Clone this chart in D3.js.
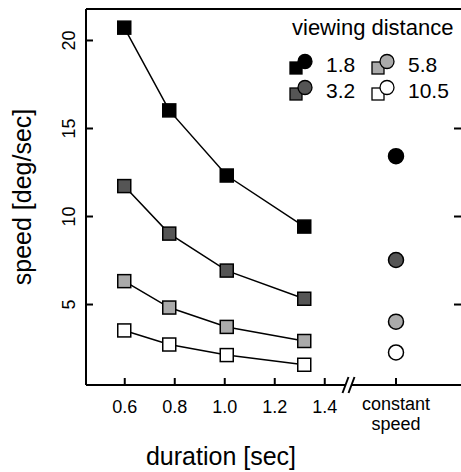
<!DOCTYPE html>
<html>
<head>
<meta charset="utf-8">
<script src="https://cdn.jsdelivr.net/npm/d3@7"></script>
<style>
  body { margin: 0; background: #fff; }
  svg { display: block; font-family: "Liberation Sans", Arial, sans-serif; }
  .axis path, .axis line { stroke: #000; stroke-width: 2; }
</style>
</head>
<body>
<svg id="chart" width="461" height="472"></svg>
<script>
// durations (sec) at which speed was measured
var durations = [0.6, 0.78, 1.01, 1.32];
var distances = ["1.8", "3.2", "5.8", "10.5"];
var fills = ["#000000", "#555555", "#aaaaaa", "#ffffff"];
// speed [deg/sec] per viewing distance
var speed18 = [20.7, 16.0, 12.3, 9.4];
var speed32 = [11.7, 9.0, 6.9, 5.3];
var speed58 = [6.3, 4.8, 3.7, 2.9];
var speed105 = [3.5, 2.7, 2.1, 1.55];
var constantSpeed = [13.4, 7.5, 4.0, 2.25];
var xTicks = [0.6, 0.8, 1.0, 1.2, 1.4];
var yTicks = [5, 10, 15, 20];

var series = [speed18, speed32, speed58, speed105];

var svg = d3.select("#chart");
var mLeft = 86, mTop = 9, mBottom = 385, mRight = 470;
var ff = "Liberation Sans";

var x = d3.scaleLinear().domain([0.447, 1.497]).range([86, 348.5]);
var xConst = 396;
var y = d3.scaleLinear().domain([0.4, 21.76]).range([mBottom, mTop]);

// frame: top line
svg.append("line").attr("x1", mLeft).attr("x2", mRight).attr("y1", mTop).attr("y2", mTop)
  .attr("stroke", "#000").attr("stroke-width", 2);

// left axis, ticks inward, labels rotated
var yAxis = svg.append("g").attr("class", "axis")
  .attr("transform", "translate(" + mLeft + ",0)")
  .call(d3.axisLeft(y).tickValues(yTicks).tickSizeInner(-7).tickSizeOuter(0).tickFormat(d3.format("d")));
yAxis.select(".domain").attr("d", "M0," + mTop + "V" + mBottom);
yAxis.selectAll(".tick text")
  .attr("x", 0).attr("y", 0).attr("dy", 0)
  .attr("text-anchor", "middle")
  .attr("transform", "translate(-11,0) rotate(-90)")
  .style("font-size", "18px").style("font-family", ff);

// right axis (line just off the page), ticks inward
var yAxisR = svg.append("g").attr("class", "axis")
  .attr("transform", "translate(" + (mRight - 9) + ",0)")
  .call(d3.axisRight(y).tickValues(yTicks).tickSizeInner(-7).tickSizeOuter(0).tickFormat(""));
yAxisR.select(".domain").remove();

// bottom axis with break
var xAxis = svg.append("g").attr("class", "axis")
  .attr("transform", "translate(0," + mBottom + ")")
  .call(d3.axisBottom(x).tickValues(xTicks).tickSizeInner(-7).tickSizeOuter(0).tickFormat(d3.format(".1f")));
xAxis.select(".domain").attr("d", "M" + mLeft + ",0H" + (x(1.497) - 3) + "M" + (x(1.497) + 3) + ",0H" + mRight);
xAxis.selectAll(".tick text").attr("y", 15).attr("dy", "0.71em")
  .style("font-size", "18px").style("font-family", ff);

var bx = x(1.497);
[-3, 3].forEach(function (d) {
  xAxis.append("line")
    .attr("x1", bx + d - 3).attr("y1", 8)
    .attr("x2", bx + d + 3).attr("y2", -8)
    .attr("stroke", "#000").attr("stroke-width", 1.5);
});
xAxis.append("line").attr("x1", xConst).attr("x2", xConst).attr("y1", 0).attr("y2", -7)
  .attr("stroke", "#000").attr("stroke-width", 2);
var ct = xAxis.append("text").attr("text-anchor", "middle").attr("fill", "#000")
  .style("font-size", "18px").style("font-family", ff);
ct.append("tspan").attr("x", xConst).attr("y", 25).text("constant");
ct.append("tspan").attr("x", xConst).attr("y", 45).text("speed");

// axis titles
svg.append("text").attr("x", 221).attr("y", 465).attr("text-anchor", "middle")
  .style("font-size", "25px").text("duration [sec]");
svg.append("text").attr("transform", "translate(31,197) rotate(-90)").attr("text-anchor", "middle")
  .style("font-size", "25px").text("speed [deg/sec]");

// lines and squares
var line = d3.line().x(function (d, i) { return x(durations[i]); }).y(function (d) { return y(d); });
series.forEach(function (s, k) {
  svg.append("path").attr("d", line(s)).attr("fill", "none")
    .attr("stroke", "#000").attr("stroke-width", 1.5);
  svg.selectAll(null).data(s).enter().append("rect")
    .attr("x", function (d, i) { return x(durations[i]) - 6.5; })
    .attr("y", function (d) { return y(d) - 6.5; })
    .attr("width", 13).attr("height", 13)
    .attr("fill", fills[k]).attr("stroke", "#000").attr("stroke-width", 1.5);
});

// constant speed circles
svg.selectAll(null).data(constantSpeed).enter().append("circle")
  .attr("cx", xConst).attr("cy", function (d) { return y(d); }).attr("r", 7.5)
  .attr("fill", function (d, i) { return fills[i]; })
  .attr("stroke", "#000").attr("stroke-width", 1.5);

// legend
var lg = svg.append("g");
lg.append("rect").attr("x", 285).attr("y", 12).attr("width", 176).attr("height", 95).attr("fill", "#fff");
lg.append("text").attr("x", 292).attr("y", 35).style("font-size", "22px").text("viewing distance");
var pos = [[296, 68], [296, 94], [378, 68], [378, 94]];
distances.forEach(function (d, i) {
  var p = pos[i];
  lg.append("rect").attr("x", p[0] - 6).attr("y", p[1] - 6).attr("width", 12).attr("height", 12)
    .attr("fill", fills[i]).attr("stroke", "#000").attr("stroke-width", 1.3);
  lg.append("circle").attr("cx", p[0] + 9).attr("cy", p[1] - 6.5).attr("r", 7)
    .attr("fill", fills[i]).attr("stroke", "#000").attr("stroke-width", 1.3);
  lg.append("text").attr("x", p[0] + 30).attr("y", p[1] + 4).style("font-size", "21px").text(d);
});
</script>
</body>
</html>
